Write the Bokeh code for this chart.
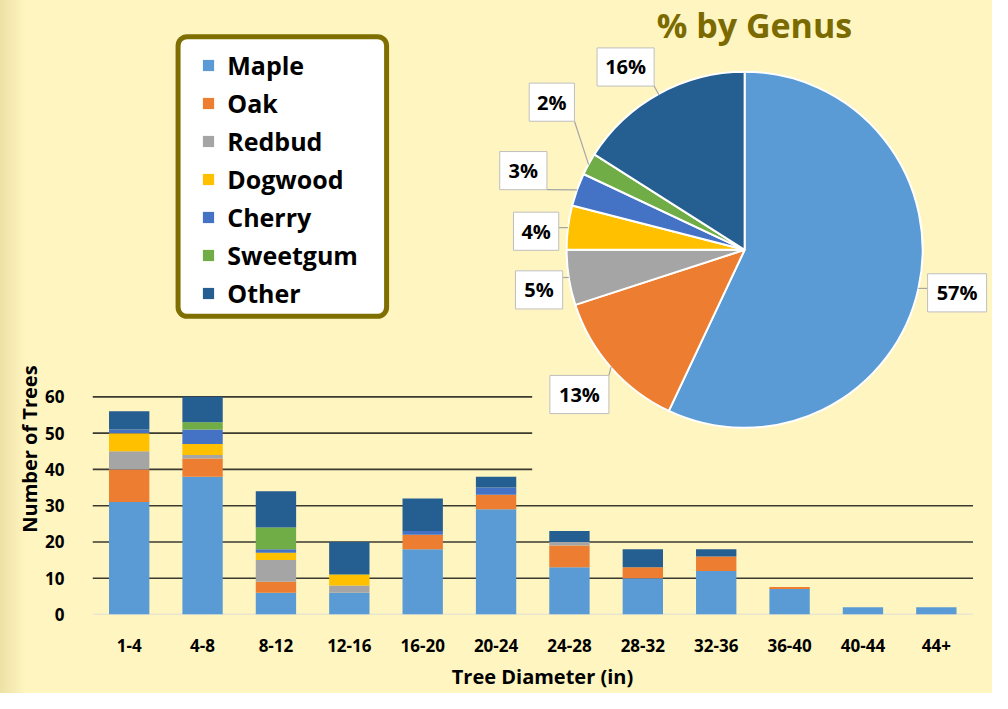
import numpy as np
from bokeh.plotting import figure
from bokeh.layouts import row
from bokeh.models import Range1d, FixedTicker, Legend, LegendItem, BoxAnnotation
from bokeh.core.properties import value
from bokeh.embed import file_html
from bokeh.resources import INLINE

# ---------------- data ----------------
diameters = ["1-4", "4-8", "8-12", "12-16", "16-20", "20-24",
             "24-28", "28-32", "32-36", "36-40", "40-44", "44+"]
genera = ["Maple", "Oak", "Redbud", "Dogwood", "Cherry", "Sweetgum", "Other"]
maple    = [31, 38, 6, 6, 18, 29, 13, 10, 12, 7, 2, 2]
oak      = [9, 5, 3, 0, 4, 4, 6, 3, 4, 0.6, 0, 0]
redbud   = [5, 1, 6, 2, 0, 0, 1, 0, 0, 0, 0, 0]
dogwood  = [5, 3, 2, 3, 0, 0, 0, 0, 0, 0, 0, 0]
cherry   = [1, 4, 1, 0, 1, 2, 0, 0, 0, 0, 0, 0]
sweetgum = [0, 2, 6, 0, 0, 0, 0, 0, 0, 0, 0, 0]
other    = [5, 7, 10, 9, 9, 3, 3, 5, 2, 0, 0, 0]
pie_pct = [57, 13, 5, 4, 3, 2, 16]
y_ticks = [0, 10, 20, 30, 40, 50, 60]

# ---------------- style ----------------
colors = ["#5B9BD5", "#ED7D31", "#A5A5A5", "#FFC000", "#4472C4", "#70AD47", "#255E91"]
BG = "#FFF5C0"
OLIVE = "#7A6A00"
FONT = "Open Sans"

W, H = 992, 693
SX, SY = W / 1008, H / 709
FL, FB = 93, 628                      # frame left / bottom in reference pixels
CAT_PX = 74.6                         # category pitch (reference px)
UNIT_PX = 3.71                        # px per tree (reference px)
LW = 42                               # width of the strip holding the y title

# ---- narrow strip with the y-axis title ----
side = figure(width=LW, height=H, output_backend="svg", toolbar_location=None,
              x_range=Range1d(0, LW / SX), y_range=Range1d(709, 0),
              min_border=0, outline_line_color=None, margin=(0, 0, 0, 0),
              background_fill_alpha=0, border_fill_alpha=0)
side.styles = {"background": "linear-gradient(90deg, #EDE1A5 0px, %s 26px)" % BG}
side.axis.visible = False
side.grid.visible = False
side.text(x=[29], y=[518], text=["Number of Trees"], angle=np.pi / 2,
          text_align="center", text_baseline="middle", text_font=value(FONT),
          text_font_style="bold", text_font_size="20px", text_color="black")

# ---- main figure ----
p = figure(width=W - LW, height=H, output_backend="svg", toolbar_location=None,
           x_range=Range1d(-0.5, -0.5 + (1008 - FL) / CAT_PX),
           y_range=Range1d(0, FB / UNIT_PX),
           min_border_left=round(FL * SX) - LW, min_border_right=0, min_border_top=0,
           min_border_bottom=H - round(FB * SY), margin=(0, 0, 0, 0),
           background_fill_color=BG, border_fill_color=BG,
           outline_line_color=None)
p.extra_x_ranges = {"px": Range1d(FL, 1008)}
p.extra_y_ranges = {"px": Range1d(FB, 0)}
p.grid.grid_line_color = None

# gridlines
n = len(diameters)
grid_y = y_ticks[1:]
p.segment(x0=[-0.5] * len(grid_y), x1=[n - 0.5] * len(grid_y), y0=grid_y, y1=grid_y,
          line_color="#3A3A30", line_width=1.6)
p.segment(x0=[-0.5], x1=[n - 0.5], y0=[0], y1=[0], line_color="#D3D7DC", line_width=1.5)

# pie chart area (covers upper gridlines)
p.quad(left=[540], right=[1008], top=[0], bottom=[495], fill_color=BG, line_color=None,
       x_range_name="px", y_range_name="px")

# stacked bars
data = dict(x=list(range(n)), Maple=maple, Oak=oak, Redbud=redbud, Dogwood=dogwood,
            Cherry=cherry, Sweetgum=sweetgum, Other=other)
rs = p.vbar_stack(genera, x="x", width=0.55, color=colors, line_color=None, source=data)

# axes
p.xaxis.ticker = FixedTicker(ticks=list(range(n)))
p.xaxis.major_label_overrides = {i: d for i, d in enumerate(diameters)}
p.yaxis.ticker = FixedTicker(ticks=y_ticks)
for ax in (p.xaxis, p.yaxis):
    ax.axis_line_color = None
    ax.major_tick_line_color = None
    ax.minor_tick_line_color = None
    ax.major_label_text_font = FONT
    ax.major_label_text_font_style = "bold"
    ax.major_label_text_font_size = "17px"
    ax.major_label_text_color = "black"
    ax.axis_label_text_font = FONT
    ax.axis_label_text_font_style = "bold"
    ax.axis_label_text_font_size = "20px"
    ax.axis_label_text_color = "black"
p.xaxis.axis_label = "Tree Diameter (in)"
p.xaxis.major_label_standoff = 18
p.xaxis.axis_label_standoff = 8
p.yaxis.major_label_standoff = 22

# pie
CX, CY, R = 756, 255, 181
cum = np.concatenate([[0], np.cumsum(pie_pct)]) / 100.0
start = np.pi / 2 - 2 * np.pi * cum[:-1]
end = np.pi / 2 - 2 * np.pi * cum[1:]
p.wedge(x=CX, y=CY, radius=R, start_angle=start, end_angle=end, direction="clock",
        fill_color=colors, line_color="white", line_width=2,
        x_range_name="px", y_range_name="px")

# data labels (callouts)
lab_x = [972, 588, 547, 544, 531, 560, 635]
lab_y = [299, 403, 296, 236, 174, 104, 68]
lab_w = [60, 60, 48, 46, 48, 46, 58]
lab_h = 39
mid = np.pi / 2 - 2 * np.pi * (cum[:-1] + np.array(pie_pct) / 200.0)
ex = CX + R * np.cos(mid)
ey = CY - R * np.sin(mid)
bx = [min(max(e, x - w / 2), x + w / 2) for e, x, w in zip(ex, lab_x, lab_w)]
by = [min(max(e, y - lab_h / 2), y + lab_h / 2) for e, y in zip(ey, lab_y)]
p.segment(x0=bx, y0=by, x1=list(ex), y1=list(ey), line_color="#A6A6A6", line_width=1.2,
          x_range_name="px", y_range_name="px")
p.rect(x=lab_x, y=lab_y, width=lab_w, height=lab_h, fill_color="white",
       line_color="#BFBFBF", line_width=1, x_range_name="px", y_range_name="px")
p.text(x=lab_x, y=lab_y, text=["%d%%" % v for v in pie_pct], text_align="center",
       text_baseline="middle", text_font=value(FONT), text_font_style="bold",
       text_font_size="20px", text_color="black", x_range_name="px", y_range_name="px")

# title of pie
p.text(x=[766], y=[25], text=["% by Genus"], text_align="center", text_baseline="middle",
       text_font=value(FONT), text_font_style="bold", text_font_size="34px",
       text_color=OLIVE, x_range_name="px", y_range_name="px")

# legend box with rounded corners
box = BoxAnnotation(left=180, right=392, top=37, bottom=323, x_range_name="px",
                    y_range_name="px", fill_color="white", fill_alpha=1,
                    line_color="#7F6F00", line_alpha=1, line_width=5, border_radius=9,
                    level="underlay")
p.add_layout(box)

ITEM_H, SPACING = 34, 4
leg_h = 7 * ITEM_H + 6 * SPACING
top_screen = 66 * SY - ITEM_H / 2
vy = (FB * SY) - (top_screen + leg_h)
vx = (204 - FL) * SX
legend = Legend(items=[LegendItem(label=g, renderers=[r]) for g, r in zip(genera, rs)],
                location=(vx, vy), padding=0, margin=0, spacing=SPACING,
                glyph_width=14, glyph_height=14, label_height=ITEM_H, label_standoff=12,
                label_text_font=FONT, label_text_font_style="bold",
                label_text_font_size="25px", label_text_color="black",
                border_line_color=None, background_fill_alpha=0)
p.add_layout(legend)

layout = row(side, p, spacing=0)
layout.styles = {"background": BG}
open("out.html", "w").write(file_html(layout, INLINE))
